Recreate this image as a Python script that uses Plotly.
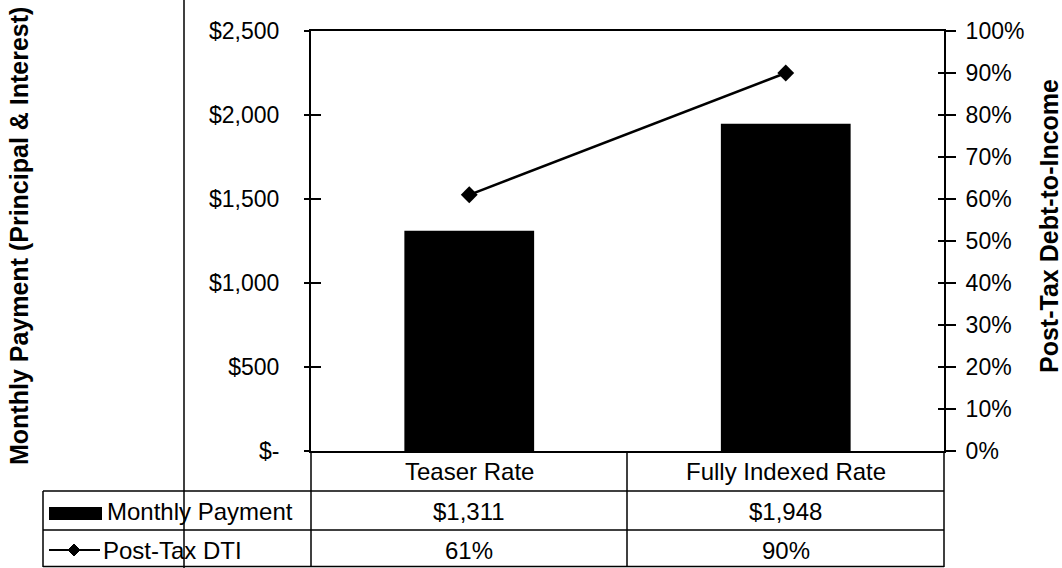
import plotly.graph_objects as go

# ---- data ----
categories = ["Teaser Rate", "Fully Indexed Rate"]
monthly_payment = [1311, 1948]
post_tax_dti = [61, 90]  # percent
series_names = ["Monthly Payment", "Post-Tax DTI"]
left_tickvals = [0, 500, 1000, 1500, 2000, 2500]
left_ticktext = ["$-", "$500", "$1,000", "$1,500", "$2,000", "$2,500"]
right_tickvals = [0, 10, 20, 30, 40, 50, 60, 70, 80, 90, 100]
right_ticktext = [f"{v}%" for v in right_tickvals]
left_title = "Monthly Payment (Principal & Interest)"
right_title = "Post-Tax Debt-to-Income"

# ---- layout geometry (pixels) ----
W, H = 1062, 568
L, R, T, B = 311, 944, 31, 451
FONT = "Arial, Liberation Sans, sans-serif"


def px(x):
    return (x - L) / (R - L)


def py(y):
    return (B - y) / (B - T)


fig = go.Figure()
fig.add_trace(go.Bar(x=categories, y=monthly_payment, name=series_names[0],
                     marker=dict(color="black", line=dict(width=0)),
                     yaxis="y"))
fig.add_trace(go.Scatter(x=categories, y=post_tax_dti, name=series_names[1],
                         mode="lines+markers", yaxis="y2",
                         line=dict(color="black", width=2.5),
                         marker=dict(symbol="diamond", size=13, color="black")))

axis_font = dict(family=FONT, size=23, color="black")

fig.update_layout(
    width=W, height=H,
    margin=dict(l=L, r=W - R, t=T, b=H - B),
    paper_bgcolor="white", plot_bgcolor="white",
    showlegend=False,
    bargap=0.59,
    font=dict(family=FONT, color="black"),
    xaxis=dict(showticklabels=False, ticks="", showgrid=False, zeroline=False,
               showline=True, linecolor="black", linewidth=2, mirror=True),
    yaxis=dict(range=[0, 2500], tickvals=left_tickvals, ticktext=left_ticktext,
               ticks="outside", ticklen=5, tickwidth=1.5, tickcolor="black",
               showline=True, linecolor="black", linewidth=2,
               showgrid=False, zeroline=False, tickfont=axis_font,
               ticklabelstandoff=20),
    yaxis3=dict(range=[0, 2500], tickvals=left_tickvals, overlaying="y", side="left",
                ticks="inside", ticklen=10, tickwidth=1.5, tickcolor="black",
                showticklabels=False, showline=False, showgrid=False, zeroline=False),
    yaxis2=dict(range=[0, 100], tickvals=right_tickvals, ticktext=right_ticktext,
                overlaying="y", side="right",
                ticks="outside", ticklen=10, tickwidth=1.5, tickcolor="black",
                showline=True, linecolor="black", linewidth=2,
                showgrid=False, zeroline=False, tickfont=axis_font,
                ticklabelstandoff=5),
    yaxis4=dict(range=[0, 100], tickvals=right_tickvals, overlaying="y", side="right",
                ticks="inside", ticklen=6, tickwidth=1.5, tickcolor="black",
                showticklabels=False, showline=False, showgrid=False, zeroline=False),
)

# invisible traces to activate overlay axes
fig.add_trace(go.Scatter(x=categories, y=[None, None], yaxis="y3", showlegend=False, hoverinfo="skip"))
fig.add_trace(go.Scatter(x=categories, y=[None, None], yaxis="y4", showlegend=False, hoverinfo="skip"))

shapes = []
line_style = dict(color="black", width=1.5)


def hline(y, x0, x1):
    shapes.append(dict(type="line", xref="paper", yref="paper", x0=px(x0), x1=px(x1),
                       y0=py(y), y1=py(y), line=line_style))


def vline(x, y0, y1):
    shapes.append(dict(type="line", xref="paper", yref="paper", x0=px(x), x1=px(x),
                       y0=py(y0), y1=py(y1), line=line_style))


# data table grid
hline(491, 43, R)
hline(530, 43, R)
hline(566.5, 43, R)
vline(43, 491, 567)
vline(L, B, 567)
vline(627, B, 567)
vline(R, B, 567)
# outer chart frame edge
vline(184, 0, H)

# legend keys in table
shapes.append(dict(type="rect", xref="paper", yref="paper",
                   x0=px(49), x1=px(102), y0=py(520), y1=py(507),
                   fillcolor="black", line=dict(width=0)))
shapes.append(dict(type="line", xref="paper", yref="paper",
                   x0=px(49), x1=px(100), y0=py(550), y1=py(550),
                   line=dict(color="black", width=2)))
cx, cy = 74, 550
pts = [(cx - 6, cy), (cx, cy - 6), (cx + 6, cy), (cx, cy + 6)]
path = "M " + " L ".join(f"{px(a)},{py(b)}" for a, b in pts) + " Z"
shapes.append(dict(type="path", xref="paper", yref="paper", path=path,
                   fillcolor="black", line=dict(color="black", width=1)))

annotations = []
cell_font = dict(family=FONT, size=24, color="black")
for i, cat in enumerate(categories):
    annotations.append(dict(x=cat, xref="x", y=py(471), yref="paper", text=cat,
                            showarrow=False, font=cell_font, xanchor="center", yanchor="middle"))
    annotations.append(dict(x=cat, xref="x", y=py(511), yref="paper",
                            text=f"${monthly_payment[i]:,}",
                            showarrow=False, font=cell_font, xanchor="center", yanchor="middle"))
    annotations.append(dict(x=cat, xref="x", y=py(550), yref="paper",
                            text=f"{post_tax_dti[i]}%",
                            showarrow=False, font=cell_font, xanchor="center", yanchor="middle"))

annotations.append(dict(x=px(105), xref="paper", y=py(511), yref="paper", text=series_names[0],
                        showarrow=False, font=cell_font, xanchor="left", yanchor="middle"))
annotations.append(dict(x=px(101), xref="paper", y=py(550), yref="paper", text=series_names[1],
                        showarrow=False, font=cell_font, xanchor="left", yanchor="middle"))

title_font = dict(family=FONT, size=25, color="black")
annotations.append(dict(x=px(19), xref="paper", y=py(236), yref="paper",
                        text=f"<b>{left_title}</b>", textangle=-90, showarrow=False,
                        font=title_font, xanchor="center", yanchor="middle"))
annotations.append(dict(x=px(1049), xref="paper", y=py(226), yref="paper",
                        text=f"<b>{right_title}</b>", textangle=-90, showarrow=False,
                        font=title_font, xanchor="center", yanchor="middle"))

fig.update_layout(shapes=shapes, annotations=annotations)

fig.write_html("out.html",
               config={"displayModeBar": False},
               post_script="document.body.style.margin='0px';document.body.style.overflow='hidden';")
